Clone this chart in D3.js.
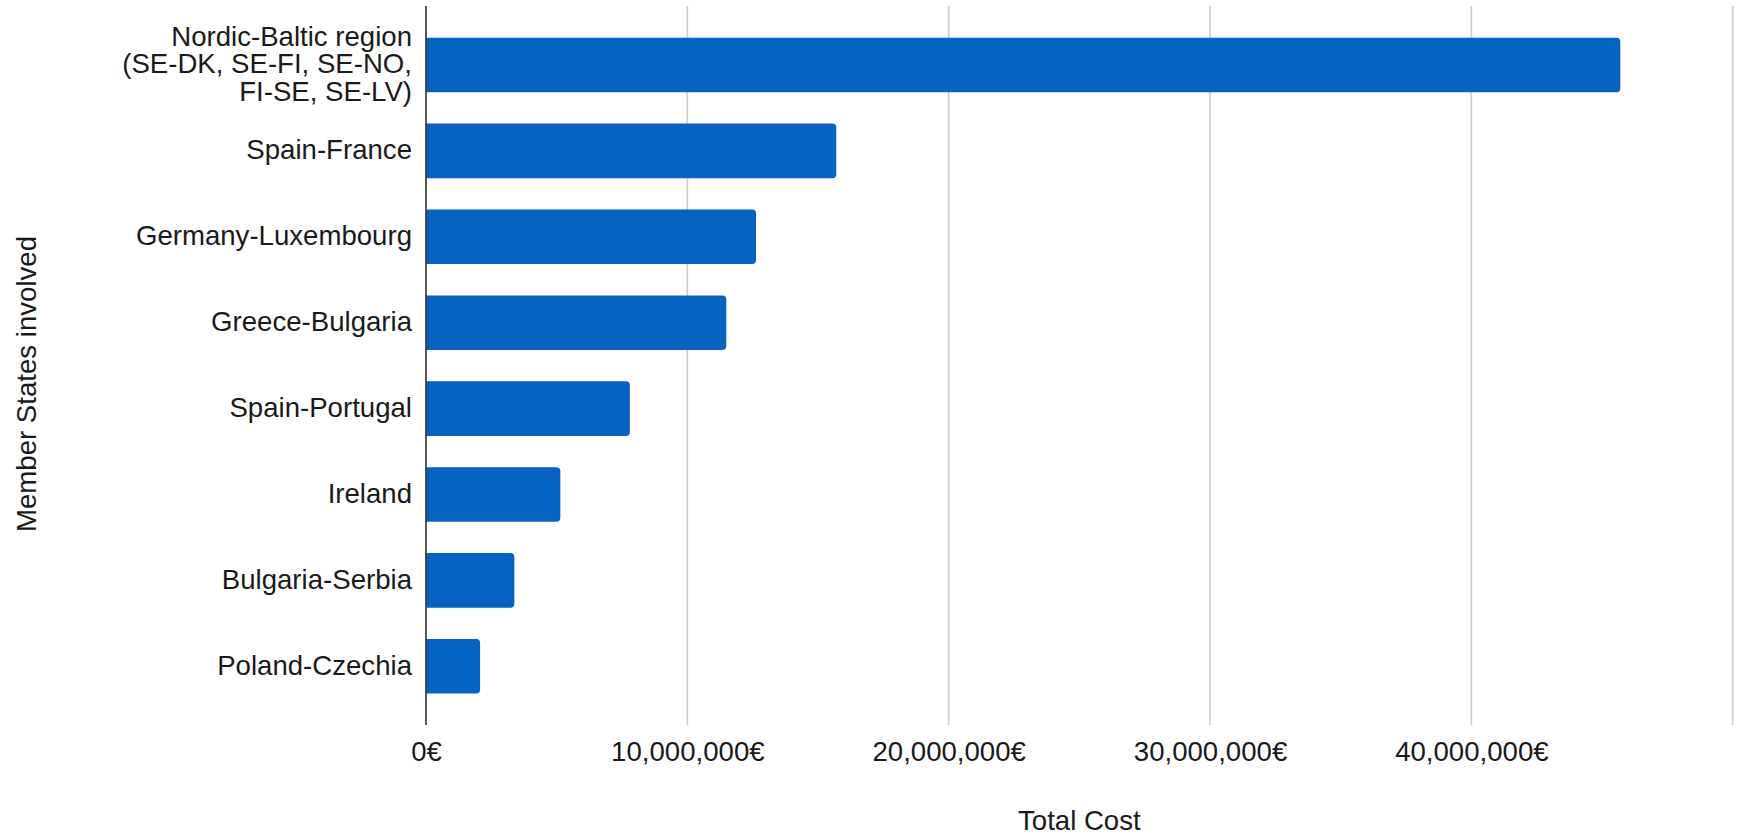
<!DOCTYPE html>
<html>
<head>
<meta charset="utf-8">
<script src="https://cdn.jsdelivr.net/npm/d3@7"></script>
<style>
  html, body { margin: 0; padding: 0; background: #fff; }
  svg { display: block; }
  text { font-family: "Liberation Sans", Arial, Helvetica, sans-serif; }
</style>
</head>
<body>
<svg id="chart" width="1742" height="836"></svg>
<script>
const categories = [
  "Nordic-Baltic region (SE-DK, SE-FI, SE-NO, FI-SE, SE-LV)",
  "Spain-France",
  "Germany-Luxembourg",
  "Greece-Bulgaria",
  "Spain-Portugal",
  "Ireland",
  "Bulgaria-Serbia",
  "Poland-Czechia"
];
const totalCost = [45700000, 15700000, 12630000, 11490000, 7800000, 5140000, 3380000, 2070000];
const xTicks = [0, 10000000, 20000000, 30000000, 40000000, 50000000];
const xTitle = "Total Cost";
const yTitle = "Member States involved";

const svg = d3.select("#chart");
const FONT = 27.6;
const plotLeft = 426, plotRight = 1732.7, plotTop = 6, plotBottom = 725;

const x = d3.scaleLinear().domain([0, 50000000]).range([plotLeft, plotRight]);
const y = d3.scaleBand().domain(categories).range([22.05, 709.25])
  .paddingInner(0.364).paddingOuter(0.182);

// gridlines
svg.append("g").selectAll("line")
  .data(xTicks.filter(d => d > 0))
  .join("line")
  .attr("x1", d => x(d)).attr("x2", d => x(d))
  .attr("y1", plotTop).attr("y2", plotBottom)
  .attr("stroke", "#cccccc").attr("stroke-width", 1.6);

// bars (right corners rounded)
const r = 4;
svg.append("g").selectAll("path")
  .data(categories.map((c, i) => ({c, v: totalCost[i]})))
  .join("path")
  .attr("fill", "#0763c1")
  .attr("d", d => {
    const x0 = x(0), x1 = x(d.v), y0 = y(d.c), h = y.bandwidth();
    return `M${x0},${y0}H${x1 - r}Q${x1},${y0} ${x1},${y0 + r}V${y0 + h - r}Q${x1},${y0 + h} ${x1 - r},${y0 + h}H${x0}Z`;
  });

// baseline axis
svg.append("line")
  .attr("x1", plotLeft).attr("x2", plotLeft)
  .attr("y1", plotTop).attr("y2", plotBottom)
  .attr("stroke", "#333").attr("stroke-width", 1.6);

// x axis tick labels
const xAxis = d3.axisBottom(x).tickValues(xTicks.slice(0, 5))
  .tickSize(0).tickPadding(0)
  .tickFormat(d => d3.format(",")(d) + "€");
const gx = svg.append("g").attr("transform", `translate(0,${761 - FONT * 0.71})`).call(xAxis);
gx.select(".domain").remove();
gx.selectAll("text")
  .attr("y", 0).attr("dy", "0.71em")
  .attr("font-size", FONT).attr("font-family", "Liberation Sans, Arial, sans-serif")
  .attr("fill", "#1a1a1a");

// y axis labels with wrapping
const yAxis = d3.axisLeft(y).tickSize(0).tickPadding(14);
const gy = svg.append("g").attr("transform", `translate(${plotLeft},0)`).call(yAxis);
gy.select(".domain").remove();
gy.selectAll("text")
  .attr("font-size", FONT).attr("font-family", "Liberation Sans, Arial, sans-serif")
  .attr("fill", "#1a1a1a")
  .attr("dy", null)
  .each(function(d) {
    const t = d3.select(this);
    const words = d.split(" ");
    t.text(null);
    const lines = [];
    let line = [];
    const tmp = t.append("tspan");
    for (const w of words) {
      line.push(w);
      tmp.text(line.join(" "));
      if (tmp.node().getComputedTextLength() > 310 && line.length > 1) {
        line.pop();
        lines.push(line.join(" "));
        line = [w];
      }
    }
    lines.push(line.join(" "));
    tmp.remove();
    const lh = 27.3;
    const off = 8.4 - (lines.length - 1) * lh / 2;
    lines.forEach((l, i) => {
      t.append("tspan").attr("x", -14).attr("y", off + i * lh).text(l);
    });
  });

// axis titles
svg.append("text")
  .attr("x", (plotLeft + plotRight) / 2).attr("y", 830)
  .attr("text-anchor", "middle").attr("font-size", FONT).attr("fill", "#1a1a1a")
  .text(xTitle);

svg.append("text")
  .attr("transform", `translate(36,384) rotate(-90)`)
  .attr("text-anchor", "middle").attr("font-size", FONT).attr("fill", "#1a1a1a")
  .text(yTitle);
</script>
</body>
</html>
